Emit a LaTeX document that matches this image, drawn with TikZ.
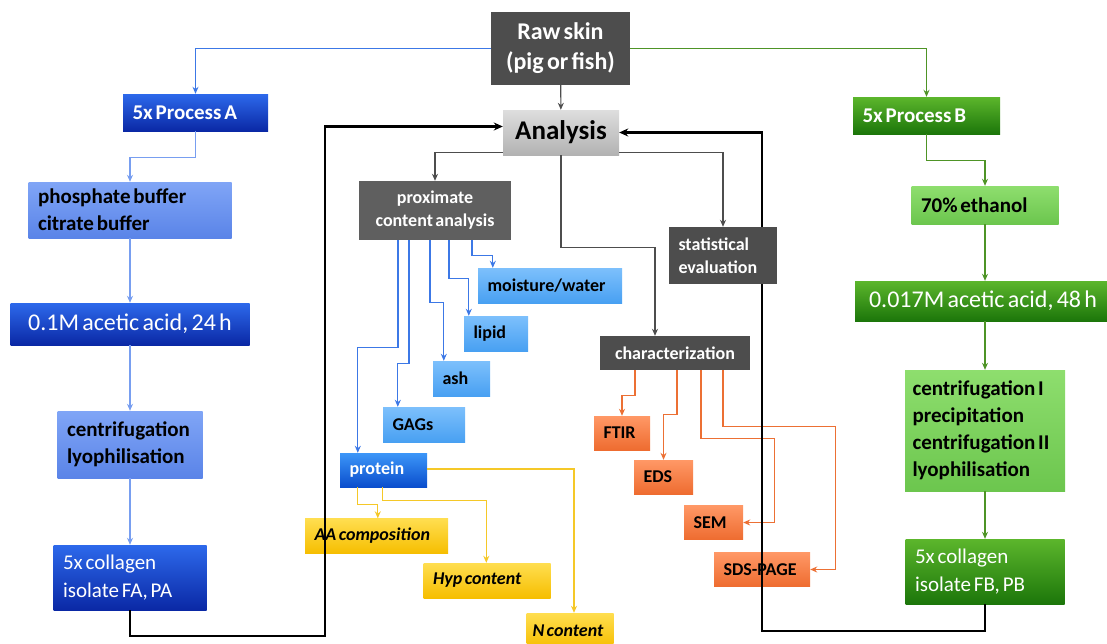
\documentclass[tikz,border=0pt]{standalone}
\usepackage{fontspec}
\setmainfont{Carlito}[WordSpace=0.6]
\usepackage{tikz}
\usetikzlibrary{arrows.meta,positioning}
\usepackage{xcolor}
\definecolor{skgray}{RGB}{77,77,77}
\definecolor{skmidgray}{RGB}{95,95,95}
\definecolor{sklightgray}{RGB}{222,222,222}
\definecolor{sklightgray2}{RGB}{178,178,178}
\definecolor{skblue}{RGB}{45,105,235}
\definecolor{skdarkblue}{RGB}{10,40,165}
\definecolor{skpaleblue}{RGB}{128,165,246}
\definecolor{skpaleblue2}{RGB}{90,132,232}
\definecolor{skskyblue}{RGB}{125,192,252}
\definecolor{skskyblue2}{RGB}{72,160,242}
\definecolor{skprotblue}{RGB}{60,150,248}
\definecolor{skprotblue2}{RGB}{10,78,205}
\definecolor{skyellow}{RGB}{255,222,80}
\definecolor{skyellow2}{RGB}{246,190,0}
\definecolor{skorange}{RGB}{255,152,102}
\definecolor{skorange2}{RGB}{238,108,48}
\definecolor{skgreen}{RGB}{92,182,44}
\definecolor{skdarkgreen}{RGB}{28,118,10}
\definecolor{skpalegreen}{RGB}{142,222,110}
\definecolor{skpalegreen2}{RGB}{108,198,78}
\definecolor{lnblue}{RGB}{60,120,230}
\definecolor{lnpaleblue}{RGB}{120,158,240}
\definecolor{lngreen}{RGB}{78,148,38}
\definecolor{lnorange}{RGB}{236,112,52}
\definecolor{lnyellow}{RGB}{245,200,40}
\tikzstyle{arrow} = [line width=1.1pt,-{Stealth[length=7pt,width=6pt]}]
\tikzstyle{backline} = [line width=2.2pt,-{Stealth[length=9pt,width=8pt]}]

\begin{document}
\begin{tikzpicture}[
    x=1pt, y=-1pt,
    every node/.style={font=\fontsize{18}{23}\selectfont\bfseries},
    box/.style={rectangle, inner xsep=9.5pt, inner ysep=0pt, align=left,
        execute at begin node={\spaceskip=\fontdimen2\font\relax}},
    graybox/.style={box, fill=skgray, text=white, align=center},
    bluebox/.style={box, top color=skblue, bottom color=skdarkblue, text=white},
    paleblue/.style={box, top color=skpaleblue, bottom color=skpaleblue2},
    skybox/.style={box, top color=skskyblue, bottom color=skskyblue2, minimum height=35pt},
    greenbox/.style={box, top color=skgreen, bottom color=skdarkgreen, text=white},
    palegreen/.style={box, top color=skpalegreen, bottom color=skpalegreen2},
    yellowbox/.style={box, top color=skyellow, bottom color=skyellow2, minimum height=35pt, font=\fontsize{18}{22}\selectfont\bfseries\itshape},
    orangebox/.style={box, top color=skorange, bottom color=skorange2, minimum height=34pt},
    bigfont/.style={font=\fontsize{21}{27}\selectfont\bfseries},
    widefont/.style={font=\fontsize{24}{28}\selectfont},
    whitefont/.style={font=\fontsize{21}{28}\selectfont}
]
\useasboundingbox (0,0) rectangle (1107,643);

% Central nodes
\node[graybox, minimum width=139pt, minimum height=73pt, font=\fontsize{24}{30}\selectfont\bfseries] (raw) at (560.5,48.5) {Raw skin\\(pig or fish)};
\node[box, top color=sklightgray, bottom color=sklightgray2, align=center, minimum width=116pt, minimum height=45pt, font=\fontsize{27}{30}\selectfont\bfseries] (analysis) at (561,132.5) {Analysis};

% Process A (left)
\node[bluebox, font=\fontsize{21}{26}\selectfont\bfseries, text width=126pt, minimum height=37pt] (procA) at (195.5,112.5) {5x Process A};
\node[paleblue, bigfont, text width=184pt, minimum height=56pt] (buffer) at (130,210) {phosphate buffer\\citrate buffer};
\node[bluebox, widefont, align=center, minimum width=239pt, minimum height=42pt] (acidA) at (130,324) {0.1M acetic acid, 24 h};
\node[paleblue, bigfont, text width=126pt, minimum height=67pt] (centA) at (130,444.5) {centrifugation\\lyophilisation};
\node[bluebox, whitefont, text width=134pt, minimum height=65pt] (collA) at (130,577.5) {5x collagen\\isolate FA, PA};

% Process B (right)
\node[greenbox, font=\fontsize{21}{26}\selectfont\bfseries, text width=128pt, minimum height=37pt] (procB) at (926.5,115.5) {5x Process B};
\node[palegreen, bigfont, text width=128pt, minimum height=38pt] (ethanol) at (985,205) {70\% ethanol};
\node[greenbox, widefont, align=center, minimum width=256pt, minimum height=40pt] (acidB) at (983,301) {0.017M acetic acid, 48 h};
\node[palegreen, bigfont, inner xsep=7.5pt, text width=145pt, minimum height=121pt] (centB) at (985,430.5) {centrifugation I\\precipitation\\centrifugation II\\lyophilisation};
\node[greenbox, whitefont, text width=140pt, minimum height=65pt] (collB) at (985,571.5) {5x collagen\\isolate FB, PB};

% Proximate content analysis
\node[graybox, fill=skmidgray, minimum width=152pt, minimum height=59pt, font=\fontsize{18}{23}\selectfont\bfseries] (prox) at (435,210.5) {proximate\\content analysis};
\node[skybox, text width=125pt] (moist) at (550,285.5) {moisture/water};
\node[skybox, text width=45pt] (lipid) at (496,333.5) {lipid};
\node[skybox, text width=38pt] (ash) at (461.5,378.5) {ash};
\node[skybox, text width=63pt] (gags) at (424,424.5) {GAGs};
\node[box, top color=skprotblue, bottom color=skprotblue2, text=white, text width=68pt, minimum height=34pt] (protein) at (383.5,470) {protein};
\node[yellowbox, text width=124pt] (aa) at (376.5,536) {AA composition};
\node[yellowbox, text width=108pt] (hyp) at (487,580.5) {Hyp content};
\node[yellowbox, inner xsep=6pt, text width=75pt] (ncont) at (570,630.5) {N content};

% Characterization
\node[graybox, minimum width=150pt, minimum height=34pt] (charact) at (675,353) {characterization};
\node[orangebox, text width=37pt] (ftir) at (622,433) {FTIR};
\node[orangebox, text width=40pt] (eds) at (663.5,477) {EDS};
\node[orangebox, text width=40pt] (sem) at (713.5,522.5) {SEM};
\node[orangebox, text width=77pt] (sds) at (762,569.5) {SDS-PAGE};

% Arrows
\draw[arrow, lnblue] (raw.west) -| (procA);
\draw[arrow, lnpaleblue] (procA.south) -- ++(0,26) -| (buffer.north);
\draw[arrow, lnpaleblue] (buffer) -- (acidA);
\draw[arrow, lnpaleblue] (acidA) -- (centA);
\draw[arrow, lnpaleblue] (centA) -- (collA);

\draw[arrow, lngreen] (raw.east) -| (procB);
\draw[arrow, lngreen] (procB.south) -- ++(0,26) -| (ethanol.north);
\draw[arrow, lngreen] (ethanol) -- (acidB.north -| ethanol);
\draw[arrow, lngreen] (acidB.south -| centB) -- (centB);
\draw[arrow, lngreen] (centB) -- (collB);

\draw[arrow, skgray] (raw) -- (analysis);
\draw[arrow, skgray] ([yshift=3pt]analysis.south west) -| (prox);
\draw[arrow, skgray] (analysis.south) -- ++(0,92) -| ([xshift=-20pt]charact.north);

\draw[arrow, lnblue] ([xshift=37pt]prox.south) -- ++(0,15) -| ([xshift=15pt]moist.north west);
\draw[arrow, lnblue] ([xshift=14pt]prox.south) -- ++(0,38) -| ([xshift=5pt]lipid.north west);
\draw[arrow, lnblue] ([xshift=-5pt]prox.south) -- ++(0,62) -| ([xshift=11pt]ash.north west);
\draw[arrow, lnblue] ([xshift=-26pt]prox.south) -- ++(0,123) -| ([xshift=15pt]gags.north west);
\draw[arrow, lnblue] ([xshift=-37pt]prox.south) -- ++(0,107) -| ([xshift=18pt]protein.north west);

\draw[arrow, lnyellow] ([xshift=18pt]protein.south west) -- ++(0,17) -| ([xshift=73pt]aa.north west);
\draw[arrow, lnyellow] ([xshift=43pt]protein.south west) -- ++(0,13) -| ([xshift=63pt]hyp.north west);
\draw[arrow, lnyellow] ([yshift=1pt]protein.east) -| ([xshift=4pt]ncont.north);

\draw[arrow, lnorange] ([xshift=-40pt]charact.south) -- ++(0,25) -| (ftir);
\draw[arrow, lnorange] ([xshift=2pt]charact.south) -- ++(0,44) -| (eds);
\draw[arrow, lnorange] ([xshift=26pt]charact.south) -- ++(0,68) -| ([xshift=31pt]sem.east) -- (sem.east);
\draw[arrow, lnorange] ([xshift=48pt]charact.south) -- ++(0,56) -| ([xshift=25pt]sds.east) -- (sds.east);

% Feedback loops
\coordinate (loopA) at (325,636);
\coordinate (loopB) at (762,631);
\draw[backline] (collA.south) |- (loopA) |- ([yshift=6pt]analysis.west);
\draw[backline] (collB.south) |- (loopB) |- (analysis.east);

% Statistics (covers the right loop)
\node[graybox, align=left, text width=89pt, minimum height=57pt] (stat) at (723,255.5) {statistical\\evaluation};
\draw[arrow, skgray] ([yshift=3pt]analysis.south east) -| (stat);

\end{tikzpicture}
\end{document}
